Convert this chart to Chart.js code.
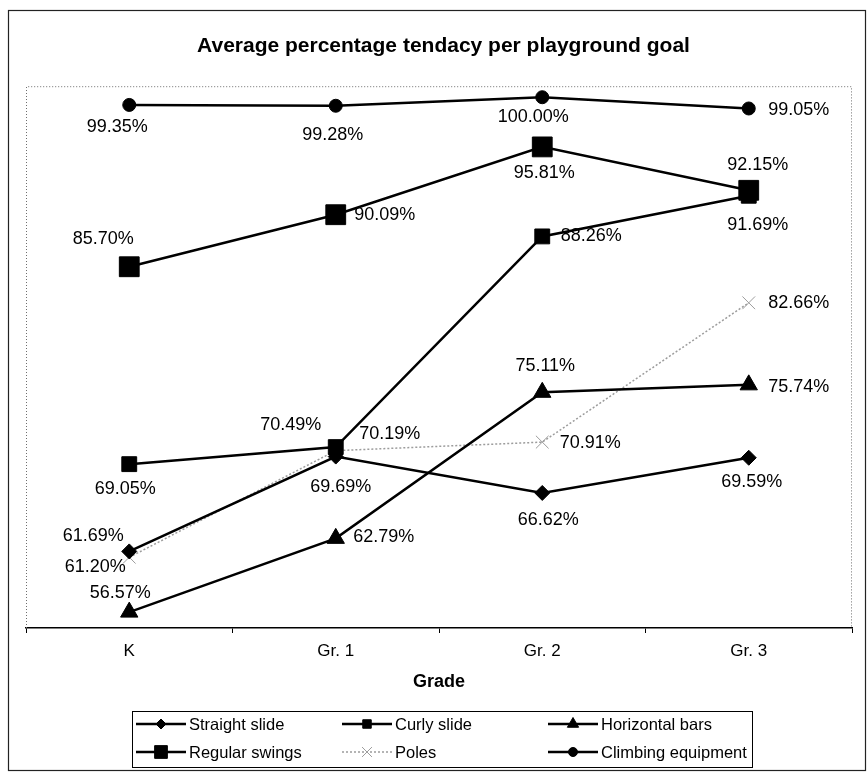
<!DOCTYPE html>
<html>
<head>
<meta charset="utf-8">
<script src="https://cdn.jsdelivr.net/npm/chart.js@4.4.1/dist/chart.umd.min.js"></script>
<style>
  html, body { margin: 0; padding: 0; background: #fff; }
  #wrap { width: 867px; height: 773px; }
</style>
</head>
<body>
<div id="wrap"><canvas id="c" width="867" height="773"></canvas></div>
<script>
// Categories and series (percent values per grade)
const grades = ['K', 'Gr. 1', 'Gr. 2', 'Gr. 3'];
const straightSlide     = [61.69, 69.69, 66.62, 69.59];
const curlySlide        = [69.05, 70.49, 88.26, 91.69];
const horizontalBars    = [56.57, 62.79, 75.11, 75.74];
const regularSwings     = [85.70, 90.09, 95.81, 92.15];
const poles             = [61.20, 70.19, 70.91, 82.66];
const climbingEquipment = [99.35, 99.28, 100.00, 99.05];

// Where each value label sits, as [dx, dy] from its point to the label centre
const straightLabelPos = [[-36, -15], [5, 30], [6, 27], [3, 24]];
const curlyLabelPos    = [[-4, 25], [-45, -22], [49, 0], [9, 29]];
const barsLabelPos     = [[-9, -19], [48, -1], [3, -26], [50, 2]];
const swingsLabelPos   = [[-26, -28], [49, 0], [2, 26], [9, -25]];
const polesLabelPos    = [[-34, 10], [54, -17], [48, 1], [50, 0]];
const climbLabelPos    = [[-12, 22], [-3, 29], [-9, 20], [50, 2]];

const FONT = '"Liberation Sans", Arial, Helvetica, sans-serif';
Chart.defaults.font.family = FONT;
Chart.defaults.color = '#000';

function series(label, data, pos, style) {
  return Object.assign({
    label: label,
    data: data,
    labelPos: pos,
    borderColor: '#000',
    backgroundColor: '#000',
    borderWidth: 2.5,
    pointBackgroundColor: '#000',
    pointBorderColor: '#000',
    pointBorderWidth: 1,
    tension: 0,
    fill: false
  }, style);
}

const datasets = [
  series('Straight slide', straightSlide, straightLabelPos, { pointStyle: 'rectRot', pointRadius: 7.5 }),
  series('Curly slide', curlySlide, curlyLabelPos, { pointStyle: 'rect', pointRadius: 10.5 }),
  series('Horizontal bars', horizontalBars, barsLabelPos, { pointStyle: 'triangle', pointRadius: 10 }),
  series('Regular swings', regularSwings, swingsLabelPos, { pointStyle: 'rect', pointRadius: 14 }),
  series('Poles', poles, polesLabelPos, {
    pointStyle: 'crossRot', pointRadius: 9, borderColor: '#9c9c9c', borderWidth: 1.5,
    borderDash: [2, 2], pointBorderColor: '#9c9c9c', pointBackgroundColor: '#9c9c9c', pointBorderWidth: 1
  }),
  series('Climbing equipment', climbingEquipment, climbLabelPos, { pointStyle: 'circle', pointRadius: 6.5 })
];

// Legend marker sizes (smaller than the plotted markers)
const legendMarkerRadius = [5, 6, 6.5, 9, 7, 4.5];

// Dotted frame around the plotting area
const plotFrame = {
  id: 'plotFrame',
  beforeDatasetsDraw(chart) {
    const { ctx, chartArea: a } = chart;
    ctx.save();
    ctx.strokeStyle = '#6e6e6e';
    ctx.lineWidth = 1;
    ctx.setLineDash([1, 2]);
    ctx.beginPath();
    ctx.moveTo(a.left + 0.5, a.bottom);
    ctx.lineTo(a.left + 0.5, a.top + 0.5);
    ctx.lineTo(a.right - 0.5, a.top + 0.5);
    ctx.lineTo(a.right - 0.5, a.bottom);
    ctx.stroke();
    ctx.restore();
  }
};

// Percentage labels next to every point
const valueLabels = {
  id: 'valueLabels',
  afterDatasetsDraw(chart) {
    const ctx = chart.ctx;
    ctx.save();
    ctx.font = '18px ' + FONT;
    ctx.fillStyle = '#000';
    ctx.textAlign = 'center';
    ctx.textBaseline = 'middle';
    chart.data.datasets.forEach((ds, di) => {
      const meta = chart.getDatasetMeta(di);
      meta.data.forEach((pt, i) => {
        const off = ds.labelPos[i];
        ctx.fillText(ds.data[i].toFixed(2) + '%', pt.x + off[0], pt.y + off[1]);
      });
    });
    ctx.restore();
  }
};

// Boxed legend laid out in three columns, plus the outer chart border
const boxLegend = {
  id: 'boxLegend',
  afterDraw(chart) {
    const ctx = chart.ctx;
    const box = { l: 132, t: 711, r: 752, b: 767 };
    const colX = [136, 342, 548];
    const rowY = [724, 752];
    const lineLen = 50;
    ctx.save();
    ctx.strokeStyle = '#000';
    ctx.lineWidth = 1;
    ctx.strokeRect(box.l + 0.5, box.t + 0.5, box.r - box.l, box.b - box.t);
    ctx.font = '16.5px ' + FONT;
    ctx.textBaseline = 'middle';
    ctx.textAlign = 'left';
    chart.data.datasets.forEach((ds, i) => {
      const x = colX[i % 3];
      const y = rowY[Math.floor(i / 3)];
      ctx.save();
      ctx.strokeStyle = ds.borderColor;
      ctx.lineWidth = ds.borderWidth;
      ctx.setLineDash(ds.borderDash || []);
      ctx.beginPath();
      ctx.moveTo(x, y);
      ctx.lineTo(x + lineLen, y);
      ctx.stroke();
      ctx.restore();
      ctx.save();
      ctx.fillStyle = ds.pointBackgroundColor;
      ctx.strokeStyle = ds.pointBorderColor;
      ctx.lineWidth = 1;
      Chart.helpers.drawPoint(ctx, {
        pointStyle: ds.pointStyle,
        radius: legendMarkerRadius[i],
        rotation: 0,
        borderWidth: 1
      }, x + lineLen / 2, y);
      ctx.restore();
      ctx.fillStyle = '#000';
      ctx.fillText(ds.label, x + lineLen + 3, y + 1);
    });
    // outer border of the whole chart
    ctx.strokeStyle = '#222';
    ctx.lineWidth = 1.2;
    ctx.strokeRect(8.5, 10.5, 857, 760);
    ctx.restore();
  }
};

new Chart(document.getElementById('c'), {
  type: 'line',
  data: { labels: grades, datasets: datasets },
  options: {
    responsive: false,
    animation: false,
    devicePixelRatio: 1,
    layout: { padding: { left: 26, right: 6, top: 0, bottom: 0 } },
    plugins: {
      legend: { display: false },
      tooltip: { enabled: false },
      title: {
        display: true,
        text: 'Average percentage tendacy per playground goal',
        color: '#000',
        font: { size: 21, weight: 'bold', family: FONT },
        padding: { top: 34, bottom: 27 }
      }
    },
    scales: {
      x: {
        offset: true,
        grid: { offset: true, drawOnChartArea: false, drawTicks: true, tickLength: 5, color: '#000', lineWidth: 1 },
        border: { display: true, color: '#000', width: 1.5 },
        ticks: { color: '#000', font: { size: 17, family: FONT }, padding: 8, maxRotation: 0 },
        title: {
          display: true, text: 'Grade', color: '#000',
          font: { size: 18, weight: 'bold', family: FONT },
          padding: { top: 0, bottom: 80 }
        },
        afterFit(scale) { scale.height = 145; }
      },
      y: { display: false, min: 55.23, max: 100.93 }
    }
  },
  plugins: [plotFrame, valueLabels, boxLegend]
});
</script>
</body>
</html>
